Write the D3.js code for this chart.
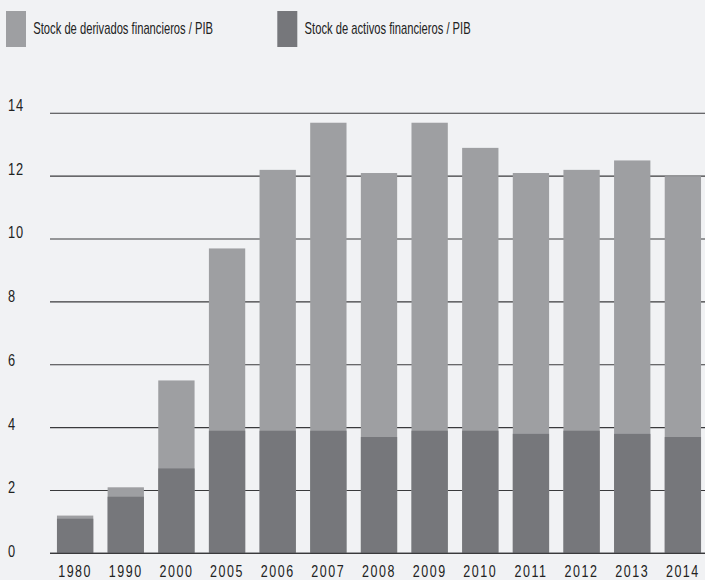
<!DOCTYPE html>
<html>
<head>
<meta charset="utf-8">
<script src="https://cdn.jsdelivr.net/npm/d3@7"></script>
<style>
  html, body { margin: 0; padding: 0; background: #f1f2f4; }
  svg { display: block; }
  text { font-family: "Liberation Sans", Arial, sans-serif; fill: #222; }
</style>
</head>
<body>
<script>
// Years shown on the horizontal axis
const years = ["1980", "1990", "2000", "2005", "2006", "2007", "2008", "2009", "2010", "2011", "2012", "2013", "2014"];
// Stock of financial derivatives relative to GDP
const derivados = [1.2, 2.1, 5.5, 9.7, 12.2, 13.7, 12.1, 13.7, 12.9, 12.1, 12.2, 12.5, 12.0];
// Stock of financial assets relative to GDP
const activos = [1.1, 1.8, 2.7, 3.9, 3.9, 3.9, 3.7, 3.9, 3.9, 3.8, 3.9, 3.8, 3.7];
// Value axis ticks
const yTicks = [0, 2, 4, 6, 8, 10, 12, 14];
// Legend entries
const legendLabels = ["Stock de derivados financieros / PIB", "Stock de activos financieros / PIB"];

const W = 705, H = 580;
const colDeriv = "#9e9fa2", colActiv = "#76777b";

const svg = d3.select("body").append("svg").attr("width", W).attr("height", H);
svg.append("rect").attr("width", W).attr("height", H).attr("fill", "#f1f2f4");

const x = d3.scaleBand().domain(years).range([49.8, 708.2])
  .paddingInner(0.283).paddingOuter(0.1415);
const y = d3.scaleLinear().domain([0, 14]).range([553.3, 113.3]);
// Tick labels sit slightly above their gridlines, more so toward the top
const yLabel = d3.scaleLinear().domain([0, 14]).range([551.5, 105.5]);

// Condensed lettering: regular face squeezed horizontally
function condensed(sel, sx) {
  return sel.attr("transform", function () {
    const t = d3.select(this);
    return `translate(${t.attr("data-x")},${t.attr("data-y")}) scale(${sx},1)`;
  });
}

// Gridlines
svg.append("g").selectAll("line").data(yTicks).join("line")
  .attr("x1", 50).attr("x2", W)
  .attr("y1", d => y(d)).attr("y2", d => y(d))
  .attr("stroke", "#3a3a3c").attr("stroke-width", 1.1);

// Tick labels
svg.append("g").selectAll("text").data(yTicks).join("text")
  .attr("data-x", 8).attr("data-y", d => yLabel(d))
  .attr("dominant-baseline", "central")
  .style("font-size", "16px")
  .style("letter-spacing", "1px")
  .text(d => d)
  .call(condensed, 0.8);

// Derivatives bars (lighter, taller)
svg.append("g").selectAll("rect").data(years).join("rect")
  .attr("x", d => x(d)).attr("width", x.bandwidth())
  .attr("y", (d, i) => y(derivados[i]))
  .attr("height", (d, i) => y(0) - y(derivados[i]))
  .attr("fill", colDeriv);

// Financial assets bars (darker)
svg.append("g").selectAll("rect").data(years).join("rect")
  .attr("x", d => x(d)).attr("width", x.bandwidth())
  .attr("y", (d, i) => y(activos[i]))
  .attr("height", (d, i) => y(0) - y(activos[i]))
  .attr("fill", colActiv);

// Baseline drawn over the bars
svg.append("line").attr("x1", 50).attr("x2", W)
  .attr("y1", y(0)).attr("y2", y(0))
  .attr("stroke", "#3a3a3c").attr("stroke-width", 1.3);

// Year labels
svg.append("g").selectAll("text").data(years).join("text")
  .attr("data-x", d => x(d) + x.bandwidth() / 2).attr("data-y", 577)
  .attr("text-anchor", "middle")
  .style("font-size", "16px")
  .style("letter-spacing", "2px")
  .text(d => d)
  .call(condensed, 0.78);

// Legend
const legend = svg.append("g");
const legendX = [6, 277.3];
const legendCols = [colDeriv, colActiv];
legendLabels.forEach((lab, i) => {
  legend.append("rect").attr("x", legendX[i]).attr("y", 11)
    .attr("width", 20).attr("height", 36).attr("fill", legendCols[i]);
  legend.append("text")
    .attr("data-x", legendX[i] + 27.3).attr("data-y", 34.3)
    .style("font-size", "16px")
    .text(lab)
    .call(condensed, 0.7);
});
</script>
</body>
</html>
